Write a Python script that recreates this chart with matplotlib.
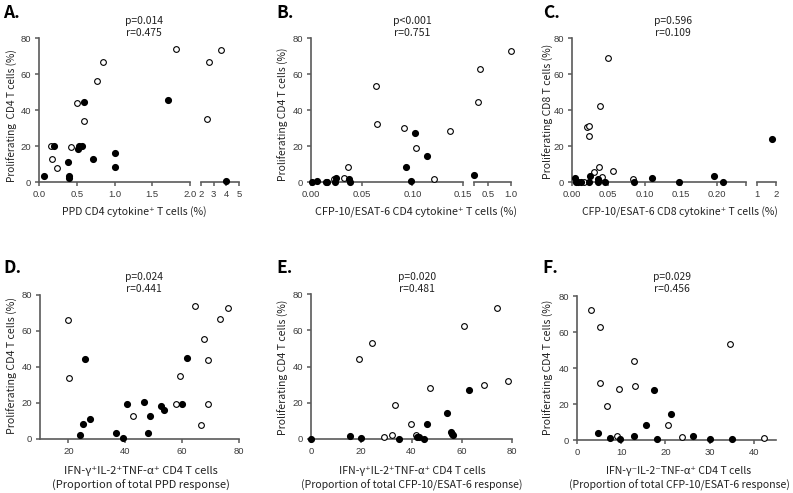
import matplotlib
matplotlib.use("Agg")
import matplotlib.pyplot as plt
import numpy as np

LABELFONT = ['Noto Sans CJK JP', 'DejaVu Sans']
TICKFONT = ['Liberation Sans', 'DejaVu Sans']
plt.rcParams['font.family'] = LABELFONT

# ---- data ----
# A: PPD CD4 cytokine+ vs proliferating CD4
a_open_x = [0.16, 0.17, 0.235, 0.42, 0.50, 0.59, 0.77, 0.85, 1.81, 2.46, 2.63, 3.55]
a_open_y = [20.0, 12.6, 7.6, 19.3, 43.8, 34.0, 56.0, 66.4, 73.8, 35.1, 66.8, 73.1]
a_fill_x = [0.066, 0.195, 0.39, 0.395, 0.40, 0.59, 0.51, 0.53, 0.565, 0.72, 1.0, 1.0, 1.71, 4.0]
a_fill_y = [3.5, 19.9, 11.1, 3.3, 2.4, 44.3, 18.6, 20.2, 19.9, 12.8, 16.3, 8.2, 45.6, 0.5]

# B: CFP-10/ESAT-6 CD4 cytokine+ vs proliferating CD4
b_open_x = [0.064, 0.065, 0.037, 0.033, 0.023, 0.0915, 0.104, 0.121, 0.137, 0.29, 0.32, 1.0]
b_open_y = [53.4, 32.2, 8.5, 2.0, 1.5, 30.1, 19.0, 1.7, 28.5, 44.5, 63.0, 72.8]
b_fill_x = [0.001, 0.006, 0.015, 0.016, 0.0245, 0.024, 0.0376, 0.038, 0.094, 0.099, 0.1023, 0.114, 0.2]
b_fill_y = [0.2, 0.5, 0.0, 0.0, 2.0, 0.0, 1.7, 0.0, 8.1, 0.7, 27.4, 14.4, 3.7]

# C: CFP-10/ESAT-6 CD8 cytokine+ vs proliferating CD8
c_open_x = [0.049, 0.038, 0.021, 0.023, 0.0236, 0.0375, 0.0306, 0.041, 0.057, 0.016, 0.0837]
c_open_y = [68.9, 42.5, 30.3, 31.1, 25.5, 8.1, 5.7, 3.0, 5.9, 0.0, 1.7]
c_fill_x = [0.0046, 0.006, 0.008, 0.012, 0.023, 0.025, 0.036, 0.036, 0.045, 0.085, 0.111, 0.147, 0.196, 0.208, 1.77]
c_fill_y = [2.0, 0.0, 0.0, 0.0, 0.0, 3.1, 1.5, 0.0, 0.0, 0.0, 2.0, 0.0, 3.5, 0.0, 23.8]

# D: polyfunctional proportion of PPD response
d_open_x = [19.9, 20.2, 42.6, 58.0, 59.2, 64.4, 66.7, 67.6, 69.0, 69.0, 73.3, 76.2]
d_open_y = [66.1, 33.7, 12.6, 19.6, 34.8, 73.7, 7.6, 55.7, 43.7, 19.3, 66.9, 73.0]
d_fill_x = [24.1, 25.0, 25.7, 27.7, 36.9, 39.2, 40.7, 46.7, 47.9, 48.7, 52.4, 53.7, 59.8, 61.6]
d_fill_y = [2.4, 8.1, 44.4, 11.1, 3.1, 0.4, 19.6, 20.6, 3.1, 12.8, 18.5, 16.1, 19.6, 45.2]

# E: polyfunctional proportion of CFP-10/ESAT-6 response
e_open_x = [19.3, 24.3, 29.1, 32.4, 33.3, 39.7, 41.7, 47.5, 60.8, 68.7, 73.9, 78.5]
e_open_y = [44.1, 53.1, 1.3, 2.2, 18.7, 8.4, 2.0, 28.4, 62.6, 29.9, 72.2, 31.9]
e_fill_x = [0.0, 15.7, 20.0, 35.1, 42.3, 42.8, 45.1, 46.3, 54.0, 55.6, 56.2, 56.7, 62.9]
e_fill_y = [0.0, 1.8, 0.4, 0.2, 1.3, 1.0, 0.2, 8.1, 14.3, 3.8, 2.8, 2.0, 27.3]

# F: TNF-only proportion of CFP-10/ESAT-6 response
f_open_x = [3.1, 5.1, 5.3, 6.7, 9.0, 9.4, 12.8, 13.2, 20.6, 23.8, 34.6, 42.2]
f_open_y = [72.2, 62.6, 31.9, 18.7, 2.0, 28.4, 44.1, 29.9, 8.4, 1.5, 53.1, 1.3]
f_fill_x = [4.7, 7.4, 9.8, 12.9, 15.6, 17.4, 18.0, 21.3, 26.2, 30.1, 35.0]
f_fill_y = [3.9, 1.3, 0.5, 2.0, 8.3, 27.8, 0.4, 14.4, 2.2, 0.4, 0.4]

W, H = 793, 493
AXC = '#5a5a5a'
TXT = '#222222'

fig = plt.figure(figsize=(W / 100, H / 100), dpi=100)


def box(x0, x1, ytop, ybot):
    return [x0 / W, 1 - ybot / H, (x1 - x0) / W, (ybot - ytop) / H]


def style(ax, left=True):
    ax.set_ylim(0, 80)
    ax.patch.set_alpha(0)
    for s in ['top', 'right']:
        ax.spines[s].set_visible(False)
    ax.spines['bottom'].set_color(AXC)
    ax.spines['bottom'].set_linewidth(1.2)
    if left:
        ax.spines['left'].set_color(AXC)
        ax.spines['left'].set_linewidth(1.2)
        ax.set_yticks([0, 20, 40, 60, 80])
    else:
        ax.spines['left'].set_visible(False)
        ax.set_yticks([])
    ax.tick_params(colors=AXC, labelcolor='#3a3a3a', labelsize=6.8, length=3, width=1.1, pad=2.5)


def fix_ticks(ax):
    for lab in ax.get_xticklabels() + ax.get_yticklabels():
        lab.set_family(TICKFONT)


def pts(ax, ox, oy, fx, fy, lo, hi):
    ox, oy, fx, fy = map(np.asarray, (ox, oy, fx, fy))
    mo = (ox >= lo) & (ox <= hi)
    mf = (fx >= lo) & (fx <= hi)
    ax.scatter(ox[mo], oy[mo], s=17, facecolor='white', edgecolor='black',
               linewidth=0.8, clip_on=False, zorder=3)
    ax.scatter(fx[mf], fy[mf], s=17, color='black', clip_on=False, zorder=3)


def broken(xl, xr, ytop, ybot, lim1, lim2, t1, l1, t2, l2, data):
    a1 = fig.add_axes(box(xl[0], xl[1], ytop, ybot))
    a2 = fig.add_axes(box(xr[0], xr[1], ytop, ybot))
    style(a1)
    style(a2, left=False)
    a1.set_xlim(*lim1)
    a2.set_xlim(*lim2)
    a1.set_xticks(t1)
    a1.set_xticklabels(l1)
    a2.set_xticks(t2)
    a2.set_xticklabels(l2)
    pts(a1, *data, lim1[0] - 1, lim1[1])
    pts(a2, *data, lim2[0], lim2[1] + 1)
    fix_ticks(a1)
    fix_ticks(a2)
    return a1, a2


def single(x0, x1, ytop, ybot, lim, ticks, data):
    ax = fig.add_axes(box(x0, x1, ytop, ybot))
    style(ax)
    ax.set_xlim(*lim)
    ax.set_xticks(ticks)
    pts(ax, *data, -1e9, 1e9)
    fix_ticks(ax)
    return ax


# top row
broken((39, 190), (201, 239), 38, 182, (0, 2.0), (2, 5),
       [0, 0.5, 1.0, 1.5, 2.0], ['0.0', '0.5', '1.0', '1.5', '2.0'],
       [2, 3, 4, 5], ['2', '3', '4', '5'],
       (a_open_x, a_open_y, a_fill_x, a_fill_y))
broken((311, 463), (474, 511), 38, 182, (0, 0.15), (0.2, 1.0),
       [0, 0.05, 0.10, 0.15], ['0.00', '0.05', '0.10', '0.15'],
       [0.2, 0.5, 1.0], ['', '0.5', '1.0'],
       (b_open_x, b_open_y, b_fill_x, b_fill_y))
broken((572, 746), (757, 776), 38, 182, (0, 0.24), (1, 2),
       [0, 0.05, 0.10, 0.15, 0.20, 0.24], ['0.00', '0.05', '0.10', '0.15', '0.20', ''],
       [1, 2], ['1', '2'],
       (c_open_x, c_open_y, c_fill_x, c_fill_y))

# bottom row
single(40, 239, 295, 439, (10, 80), [20, 40, 60, 80],
       (d_open_x, d_open_y, d_fill_x, d_fill_y))
single(311, 512, 294, 439, (0, 80), [0, 20, 40, 60, 80],
       (e_open_x, e_open_y, e_fill_x, e_fill_y))
single(577, 776, 296, 440, (0, 45), [0, 10, 20, 30, 40],
       (f_open_x, f_open_y, f_fill_x, f_fill_y))


def ftext(x, y, s, **kw):
    return fig.text(x / W, 1 - y / H, s, **kw)


# panel letters
for (x, y, s) in [(3, 13, 'A.'), (276, 13, 'B.'), (543, 13, 'C.'),
                  (3, 268, 'D.'), (276, 268, 'E.'), (542, 268, 'F.')]:
    ftext(x, y, s, fontsize=12.5, fontweight='bold', ha='left', va='center', color='black')

# groups of texts that share one font size, fitted so that the first one
# has the length (px) measured on the reference
groups = []

# statistics: (x centre, y of first line, target width, line1, line2)
stats = [(144, 21.5, 38, 'p=0.014', 'r=0.475'), (412, 21.5, 39, 'p<0.001', 'r=0.751'),
         (673, 21, 38, 'p=0.596', 'r=0.109'), (144, 277, 38, 'p=0.024', 'r=0.441'),
         (417, 277, 38, 'p=0.020', 'r=0.481'), (672, 277, 38, 'p=0.029', 'r=0.456')]
for (x, y, L, s1, s2) in stats:
    t1 = ftext(x, y, s1, fontsize=8, ha='center', va='center', color=TXT)
    t2 = ftext(x, y + 12, s2, fontsize=8, ha='center', va='center', color=TXT)
    groups.append(([t1, t2], L, False))

# y labels: (x, y centre, target length in px, text)
ylabs = [(12.5, 116, 133, 'Proliferating  CD4 T cells (%)'),
         (283, 114, 133, 'Proliferating CD4 T cells (%)'),
         (548, 111, 135, 'Proliferating CD8 T cells (%)'),
         (12.5, 366, 137, 'Proliferating CD4 T cells (%)'),
         (283, 367, 135, 'Proliferating CD4 T cells (%)'),
         (548, 367, 135, 'Proliferating CD4 T cells (%)')]
for (x, y, L, s) in ylabs:
    t = ftext(x, y, s, fontsize=9, rotation=90, ha='center', va='center', color=TXT)
    groups.append(([t], L, True))

# single-line x labels: (x centre, y centre, target width, text)
xlabs = [(134.5, 212, 145, 'PPD CD4 cytokine\u207a T cells (%)'),
         (416, 212, 202, 'CFP-10/ESAT-6 CD4 cytokine\u207a T cells (%)'),
         (680, 212, 196, 'CFP-10/ESAT-6 CD8 cytokine\u207a T cells (%)')]
for (x, y, L, s) in xlabs:
    t = ftext(x, y, s, fontsize=9, ha='center', va='center', color=TXT)
    groups.append(([t], L, False))

# two-line x labels: (x centre, target width of line 2, line1, line2)
xlabs2 = [(141, 177, 'IFN-\u03b3\u207aIL-2\u207aTNF-\u03b1\u207a CD4 T cells',
           '(Proportion of total PPD response)'),
          (412, 222, 'IFN-\u03b3\u207aIL-2\u207aTNF-\u03b1\u207a CD4 T cells',
           '(Proportion of total CFP-10/ESAT-6 response)'),
          (679, 221, 'IFN-\u03b3\u207bIL-2\u207bTNF-\u03b1\u207a CD4 T cells',
           '(Proportion of total CFP-10/ESAT-6 response)')]
for (x, L, s1, s2) in xlabs2:
    t2 = ftext(x, 485.5, s2, fontsize=9, ha='center', va='center', color=TXT)
    t1 = ftext(x, 470.5, s1, fontsize=9, ha='center', va='center', color=TXT)
    groups.append(([t2, t1], L, False))

# scale each group so its reference text has the measured length
fig.canvas.draw()
r = fig.canvas.get_renderer()
for ts, L, vert in groups:
    bb = ts[0].get_window_extent(r)
    cur = bb.height if vert else bb.width
    size = ts[0].get_fontsize() * L / cur
    for t in ts:
        t.set_fontsize(size)

fig.savefig('out.png', dpi=100)
